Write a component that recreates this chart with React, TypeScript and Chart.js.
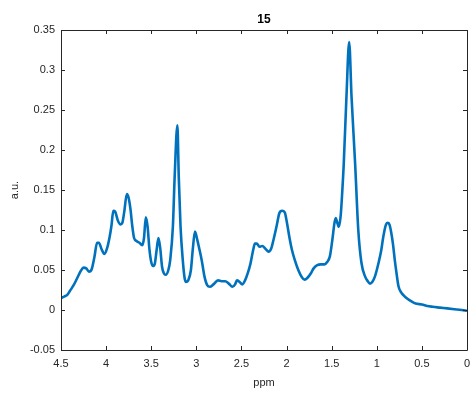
import React, { useEffect, useRef } from "react";
import { Chart, registerables } from "chart.js";

Chart.register(...registerables);

const ppm = [
  4.5, 4.46, 4.43, 4.4, 4.36, 4.32, 4.28, 4.25, 4.22, 4.19, 4.16, 4.13, 4.1, 4.08, 4.05, 4.02, 3.99, 3.96, 3.94, 3.92,
  3.9, 3.87, 3.84, 3.82, 3.8, 3.77, 3.75, 3.73, 3.71, 3.69, 3.66, 3.63, 3.6, 3.58, 3.56, 3.54, 3.52, 3.5, 3.48, 3.46,
  3.44, 3.42, 3.4, 3.38, 3.36, 3.34, 3.31, 3.29, 3.26, 3.24, 3.21, 3.195, 3.175, 3.15, 3.13, 3.115, 3.09, 3.06, 3.04,
  3.015, 2.99, 2.97, 2.94, 2.91, 2.88, 2.85, 2.81, 2.76, 2.72, 2.68, 2.64, 2.6, 2.57, 2.55, 2.52, 2.49, 2.46, 2.43, 2.4,
  2.37, 2.35, 2.33, 2.3, 2.27, 2.23, 2.2, 2.17, 2.14, 2.11, 2.08, 2.05, 2.02, 2.0, 1.97, 1.94, 1.91, 1.87, 1.83, 1.8,
  1.77, 1.73, 1.7, 1.66, 1.62, 1.58, 1.55, 1.52, 1.49, 1.47, 1.455, 1.44, 1.42, 1.4, 1.39, 1.366, 1.336, 1.306, 1.28,
  1.24, 1.205, 1.17, 1.13, 1.1, 1.075, 1.05, 1.02, 0.98, 0.95, 0.93, 0.9, 0.88, 0.86, 0.84, 0.82, 0.8, 0.78,
  0.76, 0.73, 0.7, 0.66, 0.62, 0.57, 0.5, 0.44, 0.38, 0.3, 0.22, 0.14, 0.06, 0.0,
];

const intensity = [
  0.015, 0.017, 0.019, 0.024, 0.031, 0.04, 0.049, 0.053, 0.052, 0.048, 0.051, 0.066, 0.084, 0.084, 0.076, 0.07, 0.077, 0.092, 0.106, 0.124,
  0.123, 0.112, 0.107, 0.109, 0.122, 0.145, 0.14, 0.126, 0.105, 0.09, 0.086, 0.084, 0.081, 0.09, 0.116, 0.104, 0.076, 0.06, 0.055, 0.058,
  0.075, 0.09, 0.077, 0.054, 0.046, 0.044, 0.05, 0.062, 0.104, 0.167, 0.231, 0.167, 0.104, 0.062, 0.04, 0.035, 0.037, 0.05, 0.075,
  0.098, 0.088, 0.078, 0.062, 0.042, 0.031, 0.029, 0.032, 0.037, 0.036, 0.036, 0.033, 0.029, 0.032, 0.037, 0.035, 0.032, 0.037, 0.046, 0.058,
  0.075, 0.083, 0.083, 0.079, 0.08, 0.076, 0.073, 0.077, 0.09, 0.105, 0.121, 0.124, 0.122, 0.112, 0.092, 0.075, 0.063, 0.05, 0.041, 0.038,
  0.04, 0.046, 0.052, 0.056, 0.057, 0.057, 0.06, 0.067, 0.09, 0.108, 0.115, 0.11, 0.104, 0.118, 0.134, 0.183, 0.267, 0.335, 0.267,
  0.183, 0.1, 0.059, 0.042, 0.036, 0.033, 0.035, 0.042, 0.059, 0.075, 0.09, 0.106, 0.109, 0.107, 0.097, 0.082, 0.062, 0.045,
  0.03, 0.022, 0.018, 0.014, 0.011, 0.008, 0.007, 0.005, 0.004, 0.003, 0.002, 0.001, 0.0, -0.001,
];

const xTicks = [4.5, 4, 3.5, 3, 2.5, 2, 1.5, 1, 0.5, 0];
const yTicks = [-0.05, 0, 0.05, 0.1, 0.15, 0.2, 0.25, 0.3, 0.35];
const titleText = "15";
const xLabel = "ppm";
const yLabel = "a.u.";

const AXIS = "#262626";
const FONT = "'Liberation Sans', Arial, sans-serif";

const boxPlugin = {
  id: "matlabBox",
  afterDraw(chart: any) {
    const { ctx, chartArea } = chart;
    const xs = chart.scales.x;
    const ys = chart.scales.y;
    const { left, right, top, bottom } = chartArea;
    ctx.save();
    ctx.strokeStyle = AXIS;
    ctx.lineWidth = 1;
    ctx.beginPath();
    ctx.rect(Math.round(left) + 0.5, Math.round(top) + 0.5, Math.round(right - left), Math.round(bottom - top));
    ctx.stroke();
    const tl = 4;
    ctx.beginPath();
    xTicks.forEach((v) => {
      const px = Math.round(xs.getPixelForValue(v)) + 0.5;
      ctx.moveTo(px, bottom);
      ctx.lineTo(px, bottom - tl);
      ctx.moveTo(px, top);
      ctx.lineTo(px, top + tl);
    });
    yTicks.forEach((v) => {
      const py = Math.round(ys.getPixelForValue(v)) + 0.5;
      ctx.moveTo(left, py);
      ctx.lineTo(left + tl, py);
      ctx.moveTo(right, py);
      ctx.lineTo(right - tl, py);
    });
    ctx.stroke();
    ctx.restore();
  },
};

export default function App() {
  const ref = useRef<HTMLCanvasElement | null>(null);
  useEffect(() => {
    if (!ref.current) return;
    const data = ppm.map((p, i) => ({ x: p, y: intensity[i] }));
    const chart = new Chart(ref.current, {
      type: "line",
      data: {
        datasets: [
          {
            data,
            borderColor: "#0072BD",
            borderWidth: 2.6,
            pointRadius: 0,
            fill: false,
            cubicInterpolationMode: "monotone",
          },
        ],
      },
      options: {
        animation: false,
        responsive: false,
        maintainAspectRatio: false,
        layout: { padding: { left: 0, right: 6, top: 0, bottom: 0 } },
        plugins: {
          legend: { display: false },
          tooltip: { enabled: false },
          title: {
            display: true,
            text: titleText,
            color: "#000",
            fullSize: false,
            font: { family: FONT, size: 12, weight: "bold" },
            padding: { top: 12, bottom: 3.6 },
          },
        },
        scales: {
          x: {
            type: "linear",
            reverse: true,
            min: 0,
            max: 4.5,
            afterBuildTicks: (s: any) => {
              s.ticks = xTicks.map((v) => ({ value: v }));
            },
            afterFit: (s: any) => {
              s.height = 44;
              s.paddingLeft = 0;
              s.paddingRight = 0;
            },
            grid: { display: false, drawTicks: false },
            border: { display: false },
            ticks: {
              color: AXIS,
              font: { family: FONT, size: 11 },
              padding: 7,
              maxRotation: 0,
              autoSkip: false,
              callback: (v: any) => String(v),
            },
            title: {
              display: true,
              text: xLabel,
              color: AXIS,
              font: { family: FONT, size: 11 },
              padding: { top: 0, bottom: 4.4 },
            },
          },
          y: {
            type: "linear",
            min: -0.05,
            max: 0.35,
            afterBuildTicks: (s: any) => {
              s.ticks = yTicks.map((v) => ({ value: v }));
            },
            afterFit: (s: any) => {
              s.width = 61;
              s.paddingTop = 0;
              s.paddingBottom = 0;
            },
            grid: { display: false, drawTicks: false },
            border: { display: false },
            ticks: {
              color: AXIS,
              font: { family: FONT, size: 11 },
              padding: 6,
              autoSkip: false,
              callback: (v: any) => String(Math.round(v * 100) / 100),
            },
            title: {
              display: true,
              text: yLabel,
              color: AXIS,
              font: { family: FONT, size: 11 },
              padding: { top: 8.4, bottom: 0 },
            },
          },
        },
      },
      plugins: [boxPlugin],
    });
    return () => chart.destroy();
  }, []);
  return (
    <div style={{ position: "fixed", left: 0, top: 0, width: 473, height: 394, background: "#fff" }}>
      <canvas ref={ref} width={473} height={394} style={{ display: "block" }} />
    </div>
  );
}
